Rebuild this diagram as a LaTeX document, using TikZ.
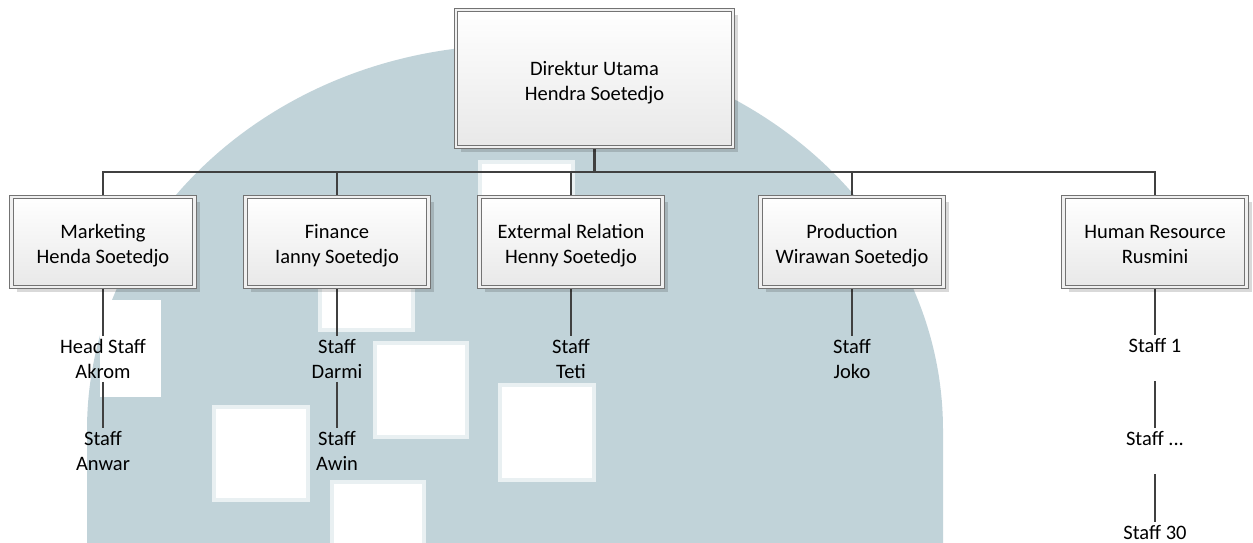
\documentclass[tikz,border=0pt]{standalone}
\usepackage{fontspec}
\setmainfont{Carlito}
\usetikzlibrary{positioning,shadows,backgrounds}
\definecolor{wmark}{RGB}{193,211,217}
\definecolor{linegray}{RGB}{64,64,64}

\tikzset{
  unitbox/.style={draw=black!55, line width=0.9pt, double=black!6, double distance=2.6pt,
    top color=white, bottom color=black!9, text width=183pt, minimum height=90pt,
    align=flush center, inner sep=0pt, font=\fontsize{20.5}{25}\selectfont,
    execute at begin node=\rule{0pt}{22pt}, execute at end node=\rule[-4pt]{0pt}{4pt},
    drop shadow={shadow xshift=5pt, shadow yshift=-5pt, fill=black, opacity=0.15}},
  staff/.style={align=center, inner xsep=2pt, inner ysep=3pt, font=\fontsize{20.5}{25}\selectfont},
  staffone/.style={inner xsep=2pt, inner ysep=3pt, text height=14pt, text depth=26pt,
    font=\fontsize{20.5}{25}\selectfont},
  link/.style={draw=linegray, line width=2.8pt},
  wsq/.style={fill=white, draw=wmark!35, line width=4pt}
}

\begin{document}
\begin{tikzpicture}[x=1pt,y=-1pt]
\useasboundingbox (0,0) rectangle (1253,542);

\node[unitbox, text width=277pt, minimum height=137pt] (dir) at (594.5,78.5) {Direktur Utama\\Hendra Soetedjo};

\node[unitbox] (mkt) at (103,242) {Marketing\\Henda Soetedjo};
\node[unitbox] (fin) at (337,242) {Finance\\Ianny Soetedjo};
\node[unitbox] (ext) at (571,242) {Extermal Relation\\Henny Soetedjo};
\node[unitbox] (prd) at (852,242) {Production\\Wirawan Soetedjo};
\node[unitbox] (hrd) at (1155,242) {Human Resource\\Rusmini};

\node[staff] (mkt1) at (103,359) {Head Staff\\Akrom};
\node[staff] (mkt2) at (103,451) {Staff\\Anwar};
\node[staff] (fin1) at (337,359) {Staff\\Darmi};
\node[staff] (fin2) at (337,451) {Staff\\Awin};
\node[staff] (ext1) at (571,359) {Staff\\Teti};
\node[staff] (prd1) at (852,359) {Staff\\Joko};
\node[staffone] (hrd1) at (1155,358) {Staff 1};
\node[staffone] (hrd2) at (1155,451) {Staff ...};
\node[staffone] (hrd3) at (1155,545) {Staff 30};

\coordinate (bar) at (594.5,172);

\begin{pgfonlayer}{background}
\fill[wmark] (87,547) -- (87,430) arc[start angle=180, end angle=360, x radius=428, y radius=385] -- (943,547) -- cycle;
\fill[white] (100,300) rectangle (161,397);
\draw[wsq] (214,407) rectangle (308,500);
\draw[wsq] (375,343) rectangle (467,437);
\draw[wsq] (500,385) rectangle (594,480);
\draw[wsq] (332,482) rectangle (424,560);
\draw[wsq] (320,260) rectangle (413,330);
\draw[wsq] (480,162) rectangle (573,215);

\foreach \d in {mkt,fin,ext,prd,hrd}
  \draw[link] (dir.south) -- (bar) -| (\d.north);
\draw[link] (mkt.south) -- (mkt1.north);
\draw[link] (mkt1.south) -- (mkt2.north);
\draw[link] (fin.south) -- (fin1.north);
\draw[link] (fin1.south) -- (fin2.north);
\draw[link] (ext.south) -- (ext1.north);
\draw[link] (prd.south) -- (prd1.north);
\draw[link] (hrd.south) -- (hrd1.north);
\draw[link] (hrd1.south) -- (hrd2.north);
\draw[link] (hrd2.south) -- (hrd3.north);
\end{pgfonlayer}

\end{tikzpicture}
\end{document}
